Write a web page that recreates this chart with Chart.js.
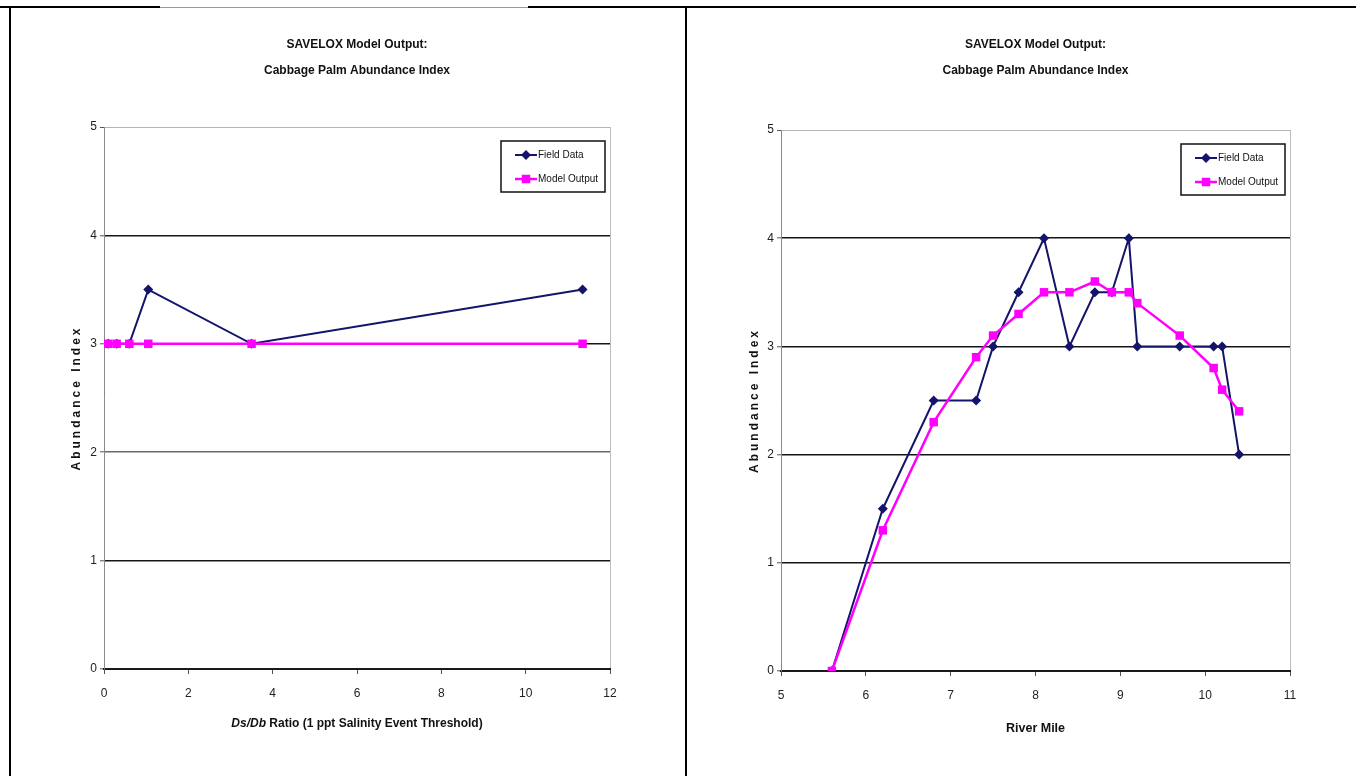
<!DOCTYPE html>
<html><head><meta charset="utf-8">
<script src="https://cdn.jsdelivr.net/npm/chart.js@4.4.1/dist/chart.umd.min.js"></script>
<style>
html,body{margin:0;padding:0;background:#fff;}
body{width:1356px;height:776px;position:relative;overflow:hidden;font-family:"Liberation Sans",Arial,sans-serif;}
#w1{position:absolute;left:0;top:0;width:686px;height:776px;}
#w2{position:absolute;left:688px;top:0;width:668px;height:776px;}
.fr{position:absolute;background:#000;z-index:5;}
#xt1{position:absolute;left:104px;width:506px;top:715px;line-height:16px;text-align:center;font-weight:bold;font-size:12px;color:#111;white-space:nowrap;}
</style>
</head><body>
<div id="w1"><canvas id="c1" width="686" height="776"></canvas></div>
<div id="w2"><canvas id="c2" width="668" height="776"></canvas></div>
<div id="xt1"><i>Ds/Db</i> Ratio (1 ppt Salinity Event Threshold)</div>
<div class="fr" style="left:0;top:6px;width:160px;height:2px"></div>
<div class="fr" style="left:160px;top:7px;width:368px;height:1px;background:#999"></div>
<div class="fr" style="left:528px;top:6px;width:828px;height:2px"></div>
<div class="fr" style="left:9px;top:6px;width:2px;height:770px"></div>
<div class="fr" style="left:685px;top:6px;width:2px;height:770px"></div>
<script>
// ---- data ----
const seriesNames = ['Field Data', 'Model Output'];
const titleLines = ['SAVELOX Model Output:', 'Cabbage Palm Abundance Index'];
const yTitle = 'Abundance Index';
const rightXTitle = 'River Mile';

const ratioX = [0.1, 0.3, 0.6, 1.05, 3.5, 11.35];
const ratioField = [3, 3, 3, 3.5, 3, 3.5];
const ratioModel = [3, 3, 3, 3, 3, 3];
const ratioTicks = [0, 2, 4, 6, 8, 10, 12];

const riverMile = [5.6, 6.2, 6.8, 7.3, 7.5, 7.8, 8.1, 8.4, 8.7, 8.9, 9.1, 9.2, 9.7, 10.1, 10.2, 10.4];
const riverField = [0, 1.5, 2.5, 2.5, 3, 3.5, 4, 3, 3.5, 3.5, 4, 3, 3, 3, 3, 2];
const riverModel = [0, 1.3, 2.3, 2.9, 3.1, 3.3, 3.5, 3.5, 3.6, 3.5, 3.5, 3.4, 3.1, 2.8, 2.6, 2.4];
const mileTicks = [5, 6, 7, 8, 9, 10, 11];
const indexTicks = [0, 1, 2, 3, 4, 5];

// ---- styling ----
const NAVY = '#14146a';
const PINK = '#ff00ff';
const FONT = '"Liberation Sans",Arial,sans-serif';

function pts(xs, ys) { return xs.map((x, i) => ({x: x, y: ys[i]})); }

const legendBox = {
  id: 'legendBox',
  afterDraw(chart) {
    const ctx = chart.ctx, ca = chart.chartArea;
    const w = 104, h = 51;
    const x0 = ca.right - 5 - w, y0 = ca.top + 14;
    ctx.save();
    ctx.fillStyle = '#fff'; ctx.fillRect(x0, y0, w, h);
    ctx.strokeStyle = '#111'; ctx.lineWidth = 1.5; ctx.strokeRect(x0, y0, w, h);
    chart.data.datasets.forEach((ds, i) => {
      const y = y0 + 14 + i * 24;
      ctx.strokeStyle = ds.borderColor; ctx.lineWidth = ds.borderWidth;
      ctx.beginPath(); ctx.moveTo(x0 + 14, y); ctx.lineTo(x0 + 36, y); ctx.stroke();
      ctx.fillStyle = ds.backgroundColor;
      const cx = x0 + 25;
      ctx.beginPath();
      if (ds.pointStyle === 'rectRot') {
        const r = ds.pointRadius;
        ctx.moveTo(cx, y - r); ctx.lineTo(cx + r, y); ctx.lineTo(cx, y + r); ctx.lineTo(cx - r, y); ctx.closePath();
      } else {
        const s = ds.pointRadius * Math.SQRT1_2;
        ctx.rect(cx - s, y - s, 2 * s, 2 * s);
      }
      ctx.fill();
      ctx.fillStyle = '#111'; ctx.font = '10px ' + FONT; ctx.textBaseline = 'middle'; ctx.textAlign = 'left';
      ctx.fillText(ds.label, x0 + 37, y);
    });
    ctx.restore();
  }
};

const spacedTitle = {
  id: 'spacedTitle',
  afterUpdate(chart) {
    const s = chart.scales.y;
    if (!s || s._patched) return;
    const orig = s.drawTitle;
    s.drawTitle = function () {
      const c = this.ctx; c.save(); c.letterSpacing = '3px'; orig.apply(this, arguments); c.restore();
    };
    s._patched = true;
  }
};

function makeChart(id, cfg) {
  const yGridColor = (c) => {
    const v = c.tick.value;
    if (v === 5) return '#b5b5b5';
    if (cfg.grayTwo && v === 2) return '#6a6a6a';
    return '#151515';
  };
  return new Chart(document.getElementById(id), {
    type: 'scatter',
    data: {
      datasets: [
        {label: seriesNames[0], data: pts(cfg.x, cfg.field), showLine: true, borderColor: NAVY, backgroundColor: NAVY,
         borderWidth: 2, pointStyle: 'rectRot', pointRadius: 5, pointBorderWidth: 0, order: 1},
        {label: seriesNames[1], data: pts(cfg.x, cfg.model), showLine: true, borderColor: PINK, backgroundColor: PINK,
         borderWidth: 2.5, pointStyle: 'rect', pointRadius: 6, pointBorderWidth: 0, order: 0}
      ]
    },
    options: {
      responsive: false, animation: false, devicePixelRatio: 1,
      layout: {padding: {left: 0, right: cfg.padRight, top: 0, bottom: 0}},
      plugins: {
        legend: {display: false}, tooltip: {enabled: false},
        title: {display: true, fullSize: false, text: titleLines, color: '#111',
                font: {family: FONT, size: 12, weight: 'bold', lineHeight: '26px'},
                padding: {top: 32, bottom: cfg.titleBottom}}
      },
      scales: {
        x: {
          type: 'linear', min: cfg.xTicks[0], max: cfg.xTicks[cfg.xTicks.length - 1],
          afterBuildTicks: (s) => { s.ticks = cfg.xTicks.map(v => ({value: v})); },
          afterFit: (s) => { s.height = cfg.xHeight; },
          border: {display: true, color: '#1a1a1a', width: 2},
          grid: {drawOnChartArea: true, color: (c) => c.tick.value === cfg.xTicks[cfg.xTicks.length - 1] ? '#bdbdbd' : 'rgba(0,0,0,0)',
                 lineWidth: 1, tickColor: '#555', tickLength: 5, tickWidth: 1},
          ticks: {color: '#222', padding: 12, font: {family: FONT, size: 12}, maxRotation: 0},
          title: {display: !!cfg.xTitle, text: cfg.xTitle || '', color: '#111', font: {family: FONT, size: 12.5, weight: 'bold'},
                  padding: {top: 0, bottom: 40}}
        },
        y: {
          type: 'linear', min: 0, max: 5,
          afterBuildTicks: (s) => { s.ticks = indexTicks.map(v => ({value: v})); },
          afterFit: (s) => { s.width = cfg.yWidth; },
          border: {display: true, color: '#8a8a8a', width: 1},
          grid: {color: yGridColor, lineWidth: (c) => c.tick.value === 5 ? 1 : 1.6, tickColor: '#555', tickLength: 4, tickWidth: 1},
          ticks: {color: '#222', padding: 3, font: {family: FONT, size: 12}},
          title: {display: true, text: yTitle, color: '#111', font: {family: FONT, size: 12, weight: 'bold'},
                  padding: {top: cfg.yTitlePad, bottom: 0}}
        }
      }
    },
    plugins: [legendBox, spacedTitle]
  });
}

makeChart('c1', {x: ratioX, field: ratioField, model: ratioModel, xTicks: ratioTicks, padRight: 76, titleBottom: 43,
  xHeight: 107, yWidth: 104, yTitlePad: 69, grayTwo: true, xTitle: null});
makeChart('c2', {x: riverMile, field: riverField, model: riverModel, xTicks: mileTicks, padRight: 66, titleBottom: 46,
  xHeight: 105, yWidth: 93, yTitlePad: 59, grayTwo: false, xTitle: rightXTitle});
</script>
</body></html>
